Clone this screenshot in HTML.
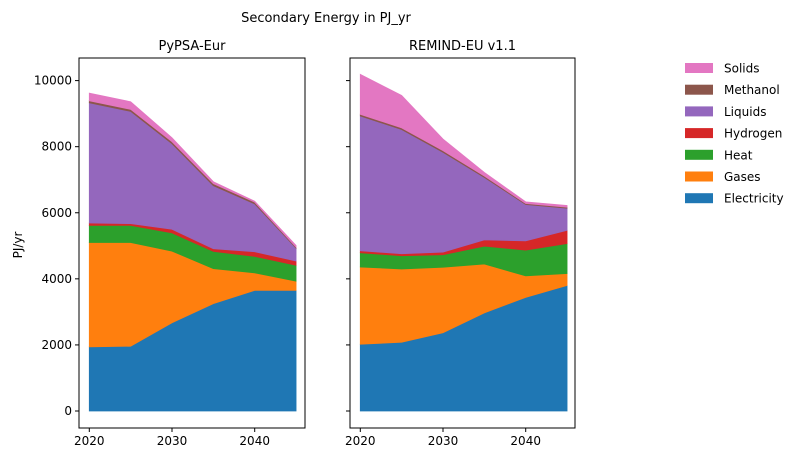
<!DOCTYPE html>
<html><head><meta charset="utf-8"><style>
body{margin:0;background:#fff;}
svg{font-family:"DejaVu Sans","Liberation Sans",sans-serif;}
</style></head><body>
<svg id="chart" width="802" height="462" viewBox="0 0 802 462" xmlns="http://www.w3.org/2000/svg">
<text x="326" y="22" font-size="13" text-anchor="middle">Secondary Energy in PJ_yr</text>
<text x="0" y="0" font-size="12" text-anchor="middle" transform="translate(22,245) rotate(-90)">PJ/yr</text>
</svg>
<script>
const years = [2020, 2025, 2030, 2035, 2040, 2045];
const carriers = ["Electricity","Gases","Heat","Hydrogen","Liquids","Methanol","Solids"];
const colors = ["#1f77b4","#ff7f0e","#2ca02c","#d62728","#9467bd","#8c564b","#e377c2"];
const pypsaElectricity = [1940,1960,2670,3250,3650,3650];
const pypsaGases = [3160,3140,2170,1060,530,280];
const pypsaHeat = [520,520,550,520,500,480];
const pypsaHydrogen = [70,50,110,80,140,130];
const pypsaLiquids = [3640,3400,2590,1910,1450,390];
const pypsaMethanol = [60,60,60,60,50,30];
const pypsaSolids = [230,230,120,60,30,50];
const remindElectricity = [2020,2080,2370,2970,3440,3800];
const remindGases = [2340,2220,1980,1480,650,360];
const remindHeat = [430,400,380,540,780,910];
const remindHydrogen = [60,60,80,190,280,400];
const remindLiquids = [4080,3760,3020,1890,1100,670];
const remindMethanol = [50,50,50,40,30,30];
const remindSolids = [1210,980,350,110,50,50];
const yTicks = [0,2000,4000,6000,8000,10000];
const xTicks = [2020,2030,2040];

const NS="http://www.w3.org/2000/svg";
const svg=document.getElementById('chart');
function mk(tag,attrs,parent){const e=document.createElementNS(NS,tag);for(const k in attrs)e.setAttribute(k,attrs[k]);(parent||svg).appendChild(e);return e;}
const axTop=58,axBottom=428;
function yScale(v){return 411 - v*0.03304;}

const panels=[
 {name:"pypsa-eur",title:"PyPSA-Eur",left:79,right:305,series:[pypsaElectricity,pypsaGases,pypsaHeat,pypsaHydrogen,pypsaLiquids,pypsaMethanol,pypsaSolids],labels:true},
 {name:"remind-eu",title:"REMIND-EU v1.1",left:350,right:575,series:[remindElectricity,remindGases,remindHeat,remindHydrogen,remindLiquids,remindMethanol,remindSolids],labels:false}
];
panels.forEach(p=>{
  const x0=p.left+10.3;
  const xScale=y=>x0+(y-2020)*8.27;
  const g=mk('g',{});
  
  
  let base=years.map(()=>0);
  p.series.forEach((s,i)=>{
    const topv=base.map((b,j)=>b+s[j]);
    let d='';
    years.forEach((y,j)=>{d+=(j?'L':'M')+xScale(y).toFixed(2)+','+yScale(topv[j]).toFixed(2);});
    for(let j=years.length-1;j>=0;j--)d+='L'+xScale(years[j]).toFixed(2)+','+yScale(base[j]).toFixed(2);
    d+='Z';
    const a=mk('path',{d:d,fill:colors[i],stroke:colors[i],'stroke-width':0.8},g);
    
    
    base=topv;
  });
  const f=mk('rect',{x:p.left,y:axTop,width:p.right-p.left,height:axBottom-axTop,fill:'none',stroke:'#000','stroke-width':1},g);
  
  
  const t=mk('text',{x:(p.left+p.right)/2,y:50,'font-size':13,'text-anchor':'middle'},g);
  t.textContent=p.title;
  
  
  yTicks.forEach(v=>{
    const yy=yScale(v);
    mk('line',{x1:p.left-4,x2:p.left,y1:yy,y2:yy,stroke:'#000'},g);
    if(p.labels){
      const tl=mk('text',{x:p.left-7,y:yy+4,'font-size':12,'text-anchor':'end'},g);
      tl.textContent=v;
      
      
    }
  });
  xTicks.forEach(v=>{
    const xx=xScale(v);
    mk('line',{x1:xx,x2:xx,y1:axBottom,y2:axBottom+4,stroke:'#000'},g);
    const tl=mk('text',{x:xx,y:axBottom+17,'font-size':12,'text-anchor':'middle'},g);
    tl.textContent=v;
    
    
  });
});
const lg=mk('g',{});


for(let i=carriers.length-1,k=0;i>=0;i--,k++){
  const yy=68+k*21.7;
  const e=mk('g',{},lg);
  
  
  mk('rect',{x:685,y:yy-5,width:28,height:10,fill:colors[i]},e);
  const t=mk('text',{x:724,y:yy+4.5,'font-size':12},e);
  t.textContent=carriers[i];
}
</script>
</body></html>
